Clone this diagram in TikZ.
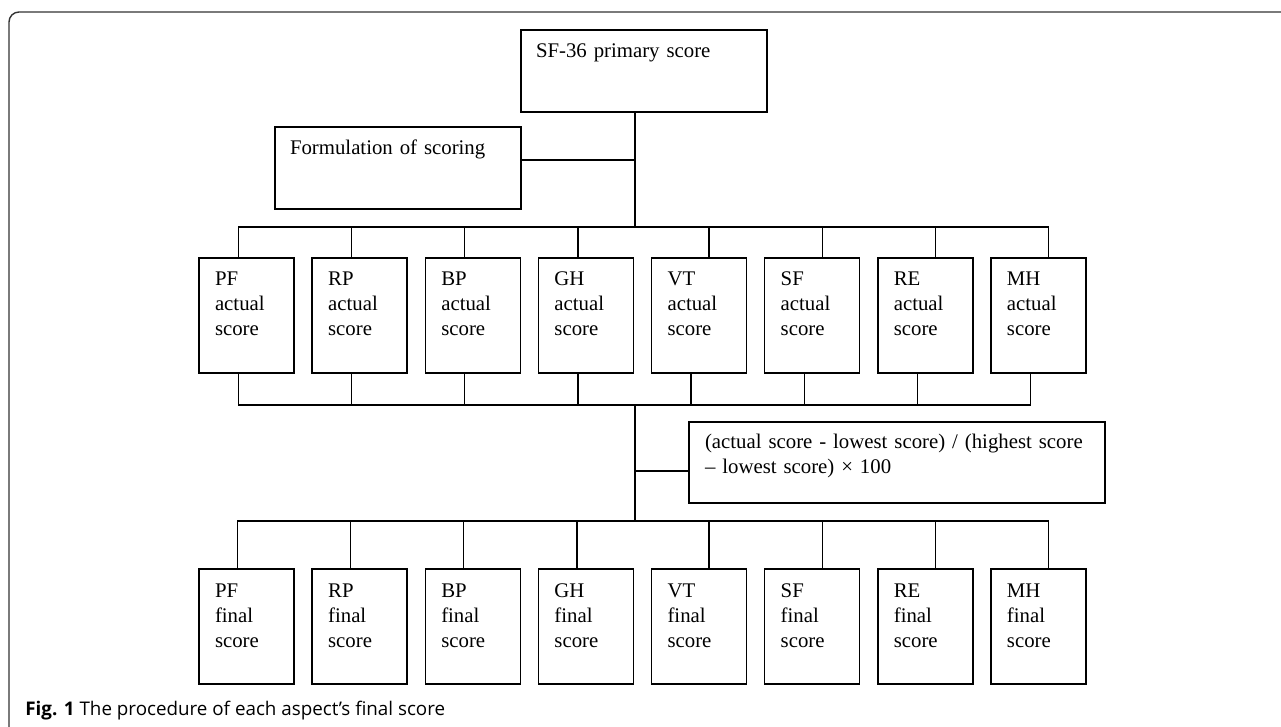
\documentclass[tikz,border=0pt]{standalone}
\usepackage{fontspec}
\setmainfont{Liberation Serif}
\newfontfamily\captionfont{Open Sans}
\usetikzlibrary{positioning, calc}

\begin{document}
\begin{tikzpicture}[
    x=0.5pt, y=-0.5pt,
    box/.style={rectangle, draw, line width=0.7pt, outer sep=0pt, align=left,
      font=\fontsize{10.4}{12.5}\selectfont, text height=7pt},
    widebox/.style={box, text width=108pt, inner xsep=7.5pt, inner ysep=7pt, text depth=20pt},
    formulabox/.style={box, text width=192pt, inner xsep=8pt, inner ysep=6.5pt, text depth=20.5pt},
    scorebox/.style={box, text width=31.5pt, inner xsep=8pt, inner ysep=7pt, text depth=36.5pt},
    link/.style={draw, line width=0.6pt},
    node distance=9.07pt
]
\useasboundingbox (0,0) rectangle (1281,727);

% frame and caption
\draw[line width=0.7pt, black!80, rounded corners=5pt] (1281,12) -- (9,12) -- (9,727);
\node[anchor=base west, inner sep=0pt, font=\captionfont\fontsize{9.4}{11}\selectfont] (caption) at (25,715)
  {\textbf{Fig. 1} The procedure of each aspect’s final score};

% top boxes
\node[widebox, anchor=north west] (primary) at (521,30) {SF-36 primary score};
\node[widebox, below left=7.5pt and 0pt of primary] (formulation) {Formulation of scoring};

% actual scores
\node[scorebox, anchor=north west] (pfa) at (199,258) {PF\\actual\\score};
\node[scorebox, right=of pfa] (rpa) {RP\\actual\\score};
\node[scorebox, right=of rpa] (bpa) {BP\\actual\\score};
\node[scorebox, right=of bpa] (gha) {GH\\actual\\score};
\node[scorebox, right=of gha] (vta) {VT\\actual\\score};
\node[scorebox, right=of vta] (sfa) {SF\\actual\\score};
\node[scorebox, right=of sfa] (rea) {RE\\actual\\score};
\node[scorebox, right=of rea] (mha) {MH\\actual\\score};

% transformation rule
\node[formulabox, anchor=north west] (formula) at (689,422)
  {(actual score - lowest score) / (highest score\\– lowest score) × 100};

% final scores
\node[scorebox, below=98pt of pfa] (pff) {PF\\final\\score};
\node[scorebox, below=98pt of rpa] (rpf) {RP\\final\\score};
\node[scorebox, below=98pt of bpa] (bpf) {BP\\final\\score};
\node[scorebox, below=98pt of gha] (ghf) {GH\\final\\score};
\node[scorebox, below=98pt of vta] (vtf) {VT\\final\\score};
\node[scorebox, below=98pt of sfa] (sff) {SF\\final\\score};
\node[scorebox, below=98pt of rea] (ref) {RE\\final\\score};
\node[scorebox, below=98pt of mha] (mhf) {MH\\final\\score};

% bus levels
\coordinate (trunk) at ([xshift=-4.5pt]primary.south);
\coordinate (bus1) at ($(trunk |- pfa.north)+(0,-31)$);
\coordinate (bus2) at ($(trunk |- pfa.south)+(0,32)$);
\coordinate (bus3) at ($(trunk |- pff.north)+(0,-48)$);

% trunk down to the actual scores
\draw[link] (trunk) -- (bus1);
\draw[link] ([yshift=4pt]formulation.east) -- ([yshift=4pt]formulation.east -| trunk);
\draw[link] ([xshift=-4pt]pfa.north) |- (bus1) -| ([xshift=5pt]mha.north);
\draw[link] ([xshift=-4pt]rpa.north) -- ([xshift=-4pt]rpa.north |- bus1);
\draw[link] ([xshift=-4pt]bpa.north) -- ([xshift=-4pt]bpa.north |- bus1);
\draw[link] ([xshift=-4pt]gha.north) -- ([xshift=-4pt]gha.north |- bus1);
\draw[link] ([xshift=5pt]vta.north) -- ([xshift=5pt]vta.north |- bus1);
\draw[link] ([xshift=5pt]sfa.north) -- ([xshift=5pt]sfa.north |- bus1);
\draw[link] ([xshift=5pt]rea.north) -- ([xshift=5pt]rea.north |- bus1);

% actual scores gathered
\draw[link] ([xshift=-4pt]pfa.south) |- (bus2) -| ([xshift=-4pt]mha.south);
\draw[link] ([xshift=-4pt]rpa.south) -- ([xshift=-4pt]rpa.south |- bus2);
\draw[link] ([xshift=-4pt]bpa.south) -- ([xshift=-4pt]bpa.south |- bus2);
\draw[link] ([xshift=-4pt]gha.south) -- ([xshift=-4pt]gha.south |- bus2);
\draw[link] ([xshift=-4pt]vta.south) -- ([xshift=-4pt]vta.south |- bus2);
\draw[link] ([xshift=-4pt]sfa.south) -- ([xshift=-4pt]sfa.south |- bus2);
\draw[link] ([xshift=-4pt]rea.south) -- ([xshift=-4pt]rea.south |- bus2);

% trunk down to the final scores
\draw[link] (bus2) -- (bus3);
\draw[link] ([yshift=-4.25pt]formula.west) -- ([yshift=-4.25pt]formula.west -| bus2);
\draw[link] ([xshift=-4.5pt]pff.north) |- (bus3) -| ([xshift=5pt]mhf.north);
\draw[link] ([xshift=-4.5pt]rpf.north) -- ([xshift=-4.5pt]rpf.north |- bus3);
\draw[link] ([xshift=-4.5pt]bpf.north) -- ([xshift=-4.5pt]bpf.north |- bus3);
\draw[link] ([xshift=-4.5pt]ghf.north) -- ([xshift=-4.5pt]ghf.north |- bus3);
\draw[link] ([xshift=5pt]vtf.north) -- ([xshift=5pt]vtf.north |- bus3);
\draw[link] ([xshift=5pt]sff.north) -- ([xshift=5pt]sff.north |- bus3);
\draw[link] ([xshift=5pt]ref.north) -- ([xshift=5pt]ref.north |- bus3);
\end{tikzpicture}
\end{document}
